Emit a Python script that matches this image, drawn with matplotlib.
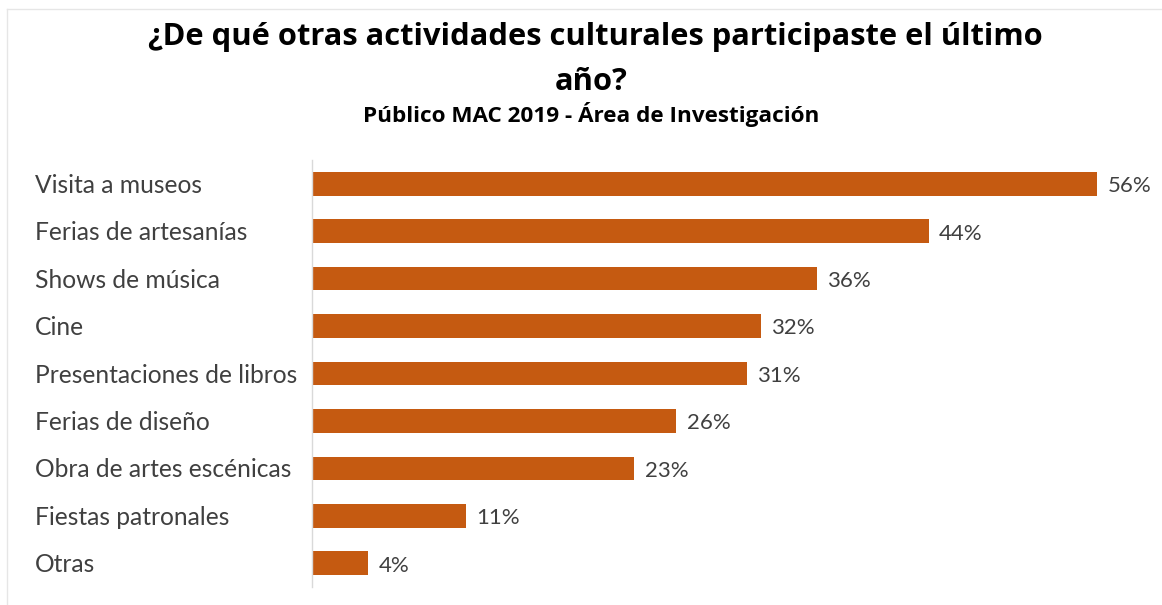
import matplotlib
matplotlib.use("Agg")
import matplotlib.pyplot as plt
from matplotlib.transforms import blended_transform_factory

# Survey answers, top to bottom
actividades = ["Visita a museos", "Ferias de artesanías", "Shows de música", "Cine",
               "Presentaciones de libros", "Ferias de diseño", "Obra de artes escénicas",
               "Fiestas patronales", "Otras"]
porcentajes = [56, 44, 36, 32, 31, 26, 23, 11, 4]

plt.rcParams['font.family'] = ['Lato', 'DejaVu Sans']

W, H = 1162, 605
fig = plt.figure(figsize=(W / 100, H / 100), dpi=100)
ax = fig.add_axes([312 / W, 18 / H, 0.7238, 427 / H])

pos = list(range(len(actividades)))
ax.barh(pos, porcentajes, height=0.5, color="#C55A11")
ax.set_ylim(len(actividades) - 0.5, -0.5)
ax.set_xlim(0, 60)

# value labels right of each bar
for p, v in zip(pos, porcentajes):
    ax.annotate(f"{v}%", (v, p), xytext=(7.5, -6), textcoords="offset points",
                va="baseline", ha="left", fontsize=16, color="#404040")

# category names left aligned on the figure
tr = blended_transform_factory(fig.transFigure, ax.transData)
for p, name in zip(pos, actividades):
    ax.annotate(name, (35 / W, p), xycoords=tr, xytext=(0, -6.5),
                textcoords="offset points", ha="left", va="baseline",
                fontsize=17.7, color="#404040", annotation_clip=False)

ax.set_xticks([])
ax.set_yticks([])
for s in ["top", "right", "bottom"]:
    ax.spines[s].set_visible(False)
ax.spines["left"].set_color("#d9d9d9")
ax.spines["left"].set_linewidth(1)

tfont = ['Open Sans', 'DejaVu Sans']
fig.text(595 / W, 1 - 45 / H, "¿De qué otras actividades culturales participaste el último",
         ha="center", va="baseline", fontsize=22.2, fontweight="bold",
         family=tfont, color="black")
fig.text(591 / W, 1 - 90 / H, "año?", ha="center", va="baseline",
         fontsize=22.2, fontweight="bold", family=tfont, color="black")
fig.text(591 / W, 1 - 122 / H, "Público MAC 2019 - Área de Investigación",
         ha="center", va="baseline", fontsize=16.2, fontweight="bold",
         family=tfont, color="black")

# thin frame lines around the chart area
fig.add_artist(plt.Line2D([7 / W, 1], [1 - 9 / H, 1 - 9 / H],
                          transform=fig.transFigure, color="#e6e6e6", lw=1))
fig.add_artist(plt.Line2D([7 / W, 7 / W], [0, 1 - 9 / H],
                          transform=fig.transFigure, color="#e6e6e6", lw=1))

fig.savefig("out.png", dpi=100)
